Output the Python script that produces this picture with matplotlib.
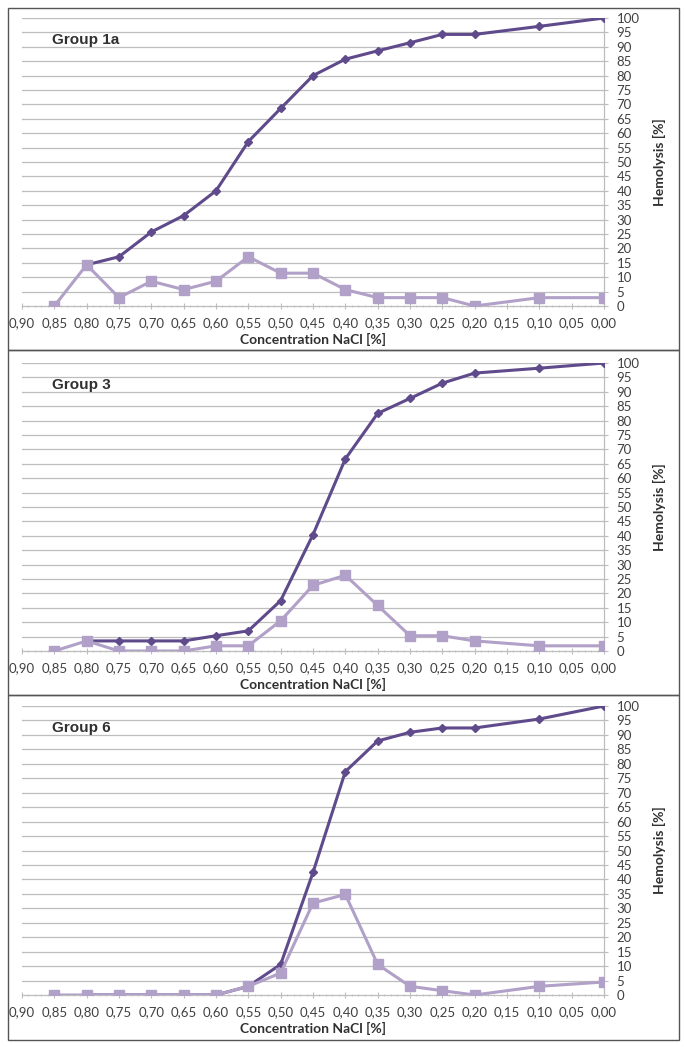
import numpy as np
import matplotlib
matplotlib.use("Agg")
import matplotlib.pyplot as plt
from matplotlib.patches import Rectangle
from matplotlib.ticker import MultipleLocator, FuncFormatter

# --------------------------------------------------------------------------- #
#  Data
# --------------------------------------------------------------------------- #
CONC = [0.85, 0.80, 0.75, 0.70, 0.65, 0.60, 0.55, 0.50,
        0.45, 0.40, 0.35, 0.30, 0.25, 0.20, 0.10, 0.00]

# group 1a
g1a_cum = [None, 14.3, 17.1, 25.7, 31.4, 40.0, 57.1, 68.6,
           80.0, 85.7, 88.6, 91.4, 94.3, 94.3, 97.1, 100.0]
g1a_frac = [0.0, 14.3, 2.9, 8.6, 5.7, 8.6, 17.1, 11.4,
            11.4, 5.7, 2.9, 2.9, 2.9, 0.0, 2.9, 2.9]

# group 3
g3_cum = [None, 3.5, 3.5, 3.5, 3.5, 5.3, 7.0, 17.5,
          40.4, 66.7, 82.5, 87.7, 93.0, 96.5, 98.2, 100.0]
g3_frac = [0.0, 3.5, 0.0, 0.0, 0.0, 1.8, 1.8, 10.5,
           22.8, 26.3, 15.8, 5.3, 5.3, 3.5, 1.8, 1.8]

# group 6
g6_cum = [None, 0.0, 0.0, 0.0, 0.0, 0.0, 3.0, 10.6,
          42.4, 77.3, 87.9, 90.9, 92.4, 92.4, 95.5, 100.0]
g6_frac = [0.0, 0.0, 0.0, 0.0, 0.0, 0.0, 3.0, 7.6,
           31.8, 34.8, 10.6, 3.0, 1.5, 0.0, 3.0, 4.5]

GROUPS = ["Group 1a", "Group 3", "Group 6"]
CUMULATIVE = [g1a_cum, g3_cum, g6_cum]
FRACTIONAL = [g1a_frac, g3_frac, g6_frac]

DARK = "#5f4a8b"
LIGHT = "#b1a0c7"
GRID = "#bdbdbd"
FONT = ["Lato", "DejaVu Sans"]
TITLE_FONT = ["Liberation Sans", "DejaVu Sans"]

# axes boxes in pixels: (left, top_at_100, right, bottom_at_0)
W, H = 685, 1047
AX_PX = [(22, 18, 604, 306), (22, 363, 604, 651), (22, 706, 604, 995)]
PANEL_PX = [(8, 8, 679, 350), (8, 350, 679, 695), (8, 695, 679, 1040)]


def comma(v, _pos):
    return f"{v:.2f}".replace(".", ",")


def draw_panel(fig, box, label, cum, frac):
    l, t, r, b = box
    ax = fig.add_axes([l / W, 1 - b / H, (r - l) / W, (b - t) / H])
    cum_x = [x for x, v in zip(CONC, cum) if v is not None]
    cum_y = [v for v in cum if v is not None]

    ax.plot(cum_x, cum_y, color=DARK, lw=2.2, marker="D", ms=4.5,
            mec=DARK, mfc=DARK, zorder=3)
    ax.plot(CONC, frac, color=LIGHT, lw=2.2, marker="s", ms=6.5,
            mec=LIGHT, mfc=LIGHT, zorder=4)

    ax.set_xlim(0.90, 0.0)
    ax.set_ylim(0, 100)
    ax.xaxis.set_major_locator(MultipleLocator(0.05))
    ax.xaxis.set_minor_locator(MultipleLocator(0.01))
    ax.xaxis.set_major_formatter(FuncFormatter(comma))
    ax.yaxis.set_major_locator(MultipleLocator(5))
    ax.yaxis.tick_right()
    ax.yaxis.set_label_position("right")

    for y in range(5, 101, 5):
        ax.axhline(y, color=GRID, lw=0.9, zorder=1)

    for side in ("top", "left"):
        ax.spines[side].set_visible(False)
    for side in ("right", "bottom"):
        ax.spines[side].set_color(GRID)
        ax.spines[side].set_linewidth(0.9)

    ax.tick_params(axis="x", which="major", direction="inout", length=4,
                   color=GRID, labelsize=9.5, pad=6, labelcolor="#404040")
    ax.tick_params(axis="x", which="minor", direction="inout", length=2,
                   color=GRID)
    ax.tick_params(axis="y", which="major", direction="out", length=3,
                   color=GRID, labelsize=9.5, pad=6, labelcolor="#404040")
    for lab in ax.get_xticklabels() + ax.get_yticklabels():
        lab.set_family(FONT)

    ax.set_xlabel("Concentration NaCl [%]", fontsize=10, fontweight="bold",
                  family=FONT, labelpad=3, color="#303030")
    ax.set_ylabel("Hemolysis [%]", fontsize=10, fontweight="bold",
                  family=FONT, labelpad=10, color="#303030")

    ax.text(30 / (r - l), 1 - 22 / (b - t), label, transform=ax.transAxes,
            fontsize=11, fontweight="bold", family=TITLE_FONT,
            ha="left", va="center", color="#303030")
    ax.set_facecolor("none")
    return ax


fig = plt.figure(figsize=(W / 100, H / 100), dpi=100)

for (l, t, r, b) in PANEL_PX:
    fig.patches.append(Rectangle((l / W, 1 - b / H), (r - l) / W, (b - t) / H,
                                 transform=fig.transFigure, fill=False,
                                 ec="#555555", lw=1.0))

for box, label, cum, frac in zip(AX_PX, GROUPS, CUMULATIVE, FRACTIONAL):
    draw_panel(fig, box, label, cum, frac)

fig.savefig("out.png", dpi=100)
